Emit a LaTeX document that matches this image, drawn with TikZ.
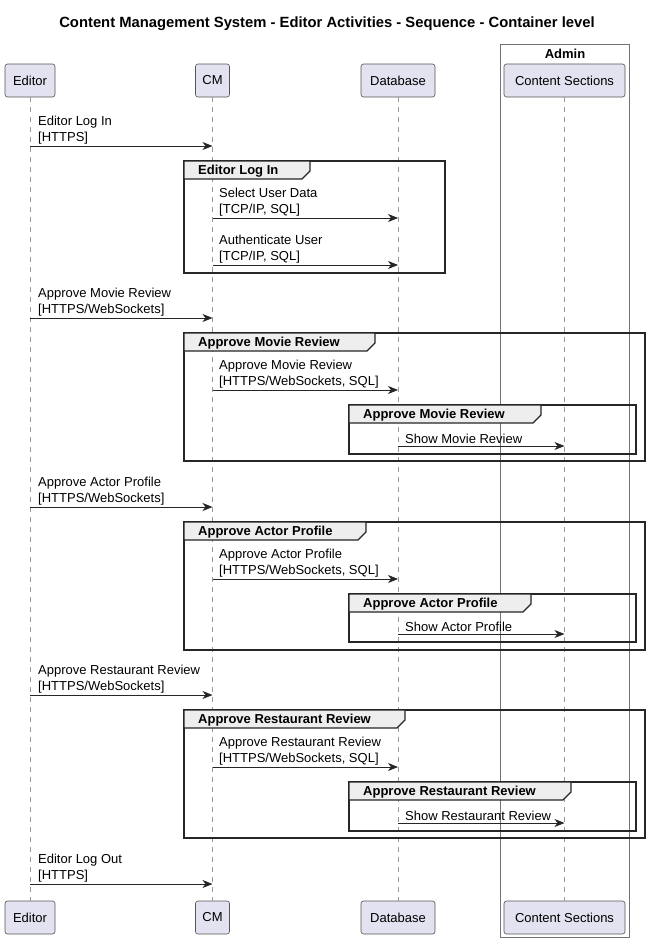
\documentclass[tikz,border=0pt]{standalone}
\usepackage{fontspec}
\setmainfont{Liberation Sans}
\usetikzlibrary{arrows.meta}
\definecolor{partfill}{HTML}{E2E2F0}
\definecolor{partline}{HTML}{555555}
\definecolor{tabfill}{HTML}{EEEEEE}
\definecolor{lifecol}{HTML}{999999}
\newcommand{\umlgroup}[7]{%
  \draw[grpframe] (#1,#2) rectangle (#3,#4);
  \draw[grptab] (#1,#2) -- (#5,#2) -- (#5,#2+10) -- (#5-8,#2+18) -- (#1,#2+18) -- cycle;
  \node[grptitle] (#7) at (#1+14,#2+10.5) {#6};
}
\tikzset{
  part/.style={draw=partline, fill=partfill, line width=0.6pt, rounded corners=2.5pt,
    minimum height=33pt, inner sep=0pt, font=\fontsize{13}{15}\selectfont},
  lifeline/.style={draw=lifecol, line width=0.6pt, dash pattern=on 5pt off 5pt},
  msg/.style={draw=black!85, line width=0.9pt, -{Stealth[length=10pt,width=8pt,inset=3pt]}},
  lbl/.style={anchor=south west, align=left, inner sep=0pt, font=\fontsize{13}{16}\selectfont},
  grpframe/.style={draw=black!85, line width=1.3pt},
  grptab/.style={draw=black!85, fill=tabfill, line width=1.1pt},
  grptitle/.style={anchor=west, inner sep=0pt, font=\bfseries\fontsize{13}{15}\selectfont},
  adminbox/.style={draw=black!55, line width=0.8pt}
}
\begin{document}
\begin{tikzpicture}[x=1pt,y=-1pt]
\useasboundingbox (0,0) rectangle (650,942);
\fill[white] (0,0) rectangle (650,942);
\node[font=\bfseries\fontsize{14.8}{17}\selectfont] (title) at (327,24) {Content Management System - Editor Activities - Sequence - Container level};
% admin box
\draw[adminbox] (500,44) rectangle (629,937);
\node[font=\bfseries\fontsize{13}{15}\selectfont] (admin) at (565,54) {Admin};
% participants
\node[part, minimum width=50pt] (ed) at (30,80.5) {Editor};
\node[part, minimum width=34pt] (cm) at (212.5,80.5) {CM};
\node[part, minimum width=74pt] (db) at (398,80.5) {Database};
\node[part, minimum width=121pt] (cs) at (564.5,80.5) {Content Sections};
\node[part, minimum width=50pt] (edB) at (30,917.5) {Editor};
\node[part, minimum width=34pt] (cmB) at (212.5,917.5) {CM};
\node[part, minimum width=74pt] (dbB) at (398,917.5) {Database};
\node[part, minimum width=121pt] (csB) at (564.5,917.5) {Content Sections};
% lifelines
\draw[lifeline] (ed) -- (edB);
\draw[lifeline] (cm) -- (cmB);
\draw[lifeline] (db) -- (dbB);
\draw[lifeline] (cs) -- (csB);
% groups
\umlgroup{184}{161}{445}{273}{310}{Editor Log In}{g1}
\umlgroup{184}{333}{645}{461}{375}{Approve Movie Review}{g2}
\umlgroup{349}{405}{636}{454}{541}{Approve Movie Review}{g2i}
\umlgroup{184}{522}{645}{650}{366}{Approve Actor Profile}{g3}
\umlgroup{349}{594}{636}{642}{531}{Approve Actor Profile}{g3i}
\umlgroup{184}{710}{645}{838}{405}{Approve Restaurant Review}{g4}
\umlgroup{349}{782}{636}{831}{571}{Approve Restaurant Review}{g4i}
% messages
\draw[msg] (ed |- 0,146) -- (cm |- 0,146);
\node[lbl] (l1) at (38,144) {Editor Log In\\{[HTTPS]}};
\draw[msg] (cm |- 0,218) -- (db |- 0,218);
\node[lbl] (l2) at (219,216) {Select User Data\\{[TCP/IP, SQL]}};
\draw[msg] (cm |- 0,265) -- (db |- 0,265);
\node[lbl] (l3) at (219,263) {Authenticate User\\{[TCP/IP, SQL]}};
\draw[msg] (ed |- 0,318) -- (cm |- 0,318);
\node[lbl] (l4) at (38,316) {Approve Movie Review\\{[HTTPS/WebSockets]}};
\draw[msg] (cm |- 0,390) -- (db |- 0,390);
\node[lbl] (l5) at (219,388) {Approve Movie Review\\{[HTTPS/WebSockets, SQL]}};
\draw[msg] (db |- 0,446) -- (cs |- 0,446);
\node[lbl] (l6) at (405,444) {Show Movie Review};
\draw[msg] (ed |- 0,507) -- (cm |- 0,507);
\node[lbl] (l7) at (38,505) {Approve Actor Profile\\{[HTTPS/WebSockets]}};
\draw[msg] (cm |- 0,579) -- (db |- 0,579);
\node[lbl] (l8) at (219,577) {Approve Actor Profile\\{[HTTPS/WebSockets, SQL]}};
\draw[msg] (db |- 0,634) -- (cs |- 0,634);
\node[lbl] (l9) at (405,632) {Show Actor Profile};
\draw[msg] (ed |- 0,695) -- (cm |- 0,695);
\node[lbl] (l10) at (38,693) {Approve Restaurant Review\\{[HTTPS/WebSockets]}};
\draw[msg] (cm |- 0,767) -- (db |- 0,767);
\node[lbl] (l11) at (219,765) {Approve Restaurant Review\\{[HTTPS/WebSockets, SQL]}};
\draw[msg] (db |- 0,823) -- (cs |- 0,823);
\node[lbl] (l12) at (405,821) {Show Restaurant Review};
\draw[msg] (ed |- 0,884) -- (cm |- 0,884);
\node[lbl] (l13) at (38,882) {Editor Log Out\\{[HTTPS]}};
\end{tikzpicture}
\end{document}
